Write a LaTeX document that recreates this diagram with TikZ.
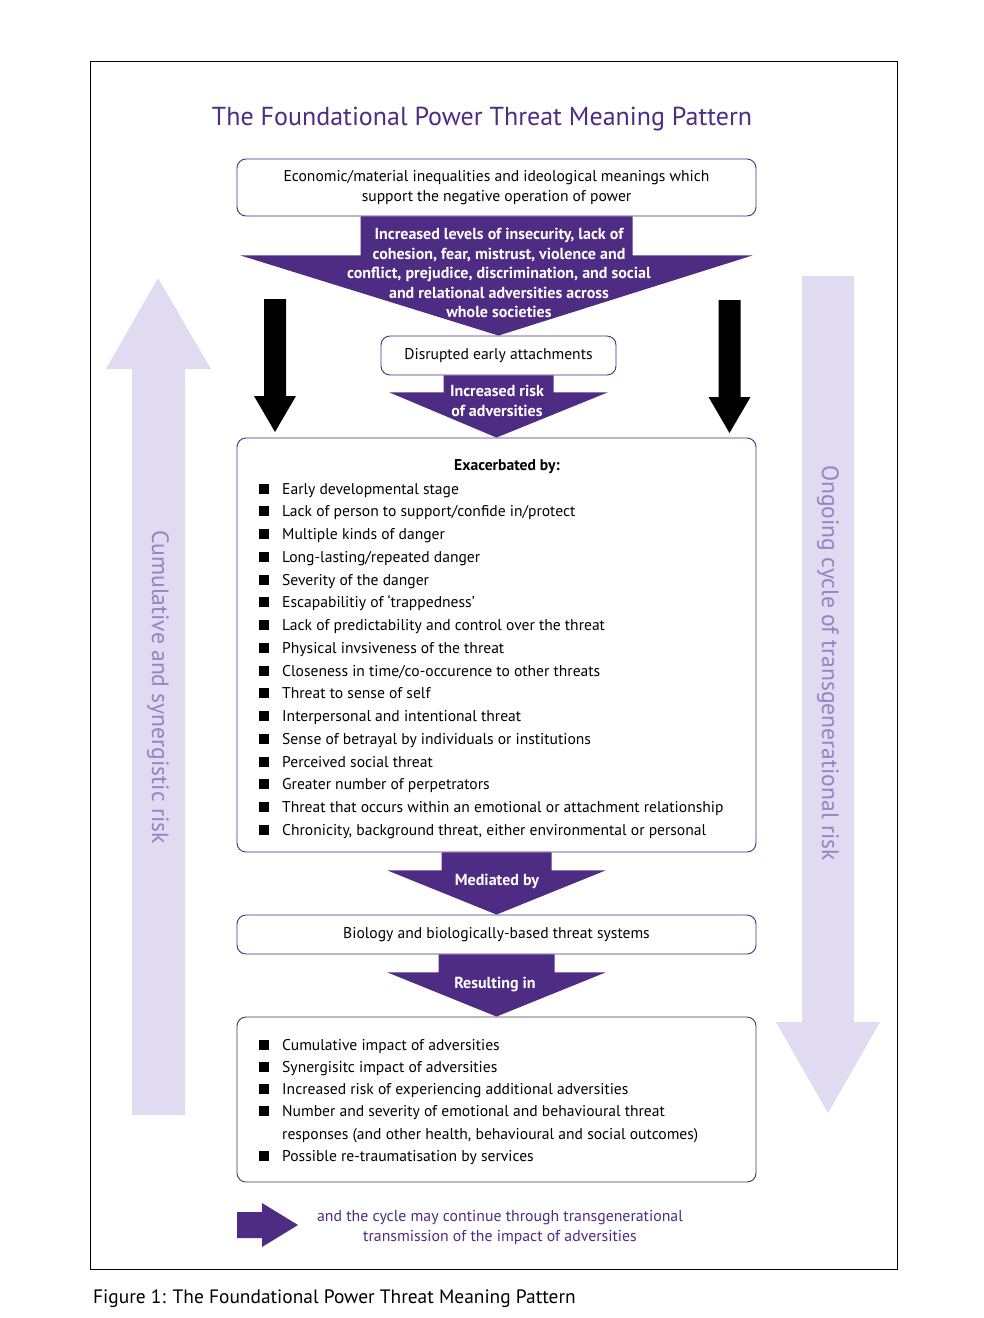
\documentclass[tikz,border=0pt]{standalone}
\usepackage{fontspec}
\setmainfont{PT Sans}
\usetikzlibrary{calc}

\definecolor{pmtpurple}{HTML}{4F2C83}
\definecolor{pmtlilac}{HTML}{E0DBF0}
\definecolor{pmtlilactext}{HTML}{9384C4}

\tikzset{
  box/.style={draw=pmtpurple, line width=0.9pt, rounded corners=9pt, fill=white,
    align=center, inner sep=0pt, font=\fontsize{15.6}{20}\selectfont},
  arrtext/.style={text=white, align=center, font=\bfseries\fontsize{16}{19.5}\selectfont},
  item/.style={anchor=base west, inner sep=0pt, font=\fontsize{15.6}{17}\selectfont},
  bullet/.style={fill=black, minimum size=10pt, inner sep=0pt},
  sidetext/.style={text=pmtlilactext, rotate=-90, font=\fontsize{23.6}{24}\selectfont}
}

\begin{document}
\begin{tikzpicture}[x=1pt,y=-1pt]
\useasboundingbox[fill=white] (0,0) rectangle (984,1318);
\draw[line width=0.8pt] (90,61) rectangle (897,1269);

% Side arrows
\fill[pmtlilac] (132,1115) -- (132,369) -- (106,369) -- (158,278) -- (211,369) -- (185,369) -- (185,1115) -- cycle;
\fill[pmtlilac] (802,276) -- (854,276) -- (854,1022) -- (880,1022) -- (828,1113) -- (776,1022) -- (802,1022) -- cycle;
\node[sidetext] (cumtxt) at (158,687) {Cumulative and synergistic risk};
\node[sidetext] (ongtxt) at (828,663) {Ongoing cycle of transgenerational risk};

% Title
\node[text=pmtpurple, font=\fontsize{26}{26}\selectfont] (title) at (482,119) {The Foundational Power Threat Meaning Pattern};

% Boxes
\node[box, minimum width=519pt, minimum height=57pt] (econ) at (496.5,187.5)
  {Economic/material inequalities and ideological meanings which\\support the negative operation of power};
\node[box, minimum width=235pt, minimum height=39pt] (attach) at (498.5,355.5) {Disrupted early attachments};
\node[box, minimum width=519pt, minimum height=414pt] (exac) at (496.5,645) {};
\node[box, minimum width=519pt, minimum height=39pt] (bio) at (496.5,934.5) {Biology and biologically-based threat systems};
\node[box, draw=black!75, minimum width=519pt, minimum height=165pt] (outc) at (496.5,1099.5) {};

% Purple block arrows between boxes
\foreach \a/\b/\s/\h/\l in {econ/attach/136/256/39, attach/exac/55/109/17, exac/bio/55/109/18, bio/outc/58/109/18}
{
  \fill[pmtpurple] ($(\a.south)+(-\s,0)$) -- ($(\a.south)+(\s,0)$) -- ($(\a.south)+(\s,\l)$)
    -- ($(\a.south)+(\h,\l)$) -- (\b.north) -- ($(\a.south)+(-\h,\l)$) -- ($(\a.south)+(-\s,\l)$) -- cycle;
}
\node[arrtext] (insec) at (499,273) {Increased levels of insecurity, lack of\\cohesion, fear, mistrust, violence and\\conflict, prejudice, discrimination, and social\\and relational adversities across\\whole societies};
\node[arrtext] (riskadv) at (497,401) {Increased risk\\of adversities};
\node[arrtext] (mediated) at (497,881) {Mediated by};
\node[arrtext] (resulting) at (495,984) {Resulting in};

% Black arrows
\coordinate (lefttop) at (275,299);
\coordinate (righttop) at (729.5,300);
\foreach \c in {lefttop,righttop}
{
  \fill[black] ($(\c)+(-11,0)$) -- ($(\c)+(11,0)$) -- ($(\c)+(11,97)$) -- ($(\c)+(21,97)$)
    -- ($(\c)+(0,133)$) -- ($(\c)+(-21,97)$) -- ($(\c)+(-11,97)$) -- cycle;
}

% Exacerbated by
\node[font=\bfseries\fontsize{15.6}{17}\selectfont] (exhead) at (507,466.5) {Exacerbated by:};
\foreach \txt [count=\i from 0] in {Early developmental stage, Lack of person to support/confide in/protect,
  Multiple kinds of danger, Long-lasting/repeated danger, Severity of the danger,
  Escapabilitiy of `trappedness', Lack of predictability and control over the threat,
  Physical invsiveness of the threat, Closeness in time/co-occurence to other threats,
  Threat to sense of self, Interpersonal and intentional threat,
  Sense of betrayal by individuals or institutions, Perceived social threat,
  Greater number of perpetrators, Threat that occurs within an emotional or attachment relationship,
  {Chronicity, background threat, either environmental or personal}}
{
  \node[bullet] (exb\i) at (264,{488.5+22.75*\i}) {};
  \node[item] (ext\i) at (282,{494+22.75*\i}) {\txt};
}

% Outcomes
\foreach \i/\txt in {0/Cumulative impact of adversities, 1/Synergisitc impact of adversities,
  2/Increased risk of experiencing additional adversities,
  3/Number and severity of emotional and behavioural threat, 5/Possible re-traumatisation by services}
{
  \node[bullet] (outb\i) at (264,{1044.5+22.3*\i}) {};
  \node[item] (outt\i) at (282,{1050+22.3*\i}) {\txt};
}
\node[item] (outt4) at (282,{1050+22.3*4}) {responses (and other health, behavioural and social outcomes)};

% Cycle continues
\node[text=pmtpurple, align=center, font=\fontsize{15.8}{20}\selectfont] (cycletxt) at (500,1227)
  {and the cycle may continue through transgenerational\\transmission of the impact of adversities};
\coordinate (cyclearr) at (237,1225);
\fill[pmtpurple] ($(cyclearr)+(0,-13)$) -- ($(cyclearr)+(25,-13)$) -- ($(cyclearr)+(25,-22)$) -- ($(cyclearr)+(61,0)$)
  -- ($(cyclearr)+(25,22)$) -- ($(cyclearr)+(25,13)$) -- ($(cyclearr)+(0,13)$) -- cycle;

% Caption
\node[anchor=west, inner sep=0pt, font=\fontsize{19.4}{19.4}\selectfont] (caption) at (93,1299) {Figure 1: The Foundational Power Threat Meaning Pattern};
\end{tikzpicture}
\end{document}
